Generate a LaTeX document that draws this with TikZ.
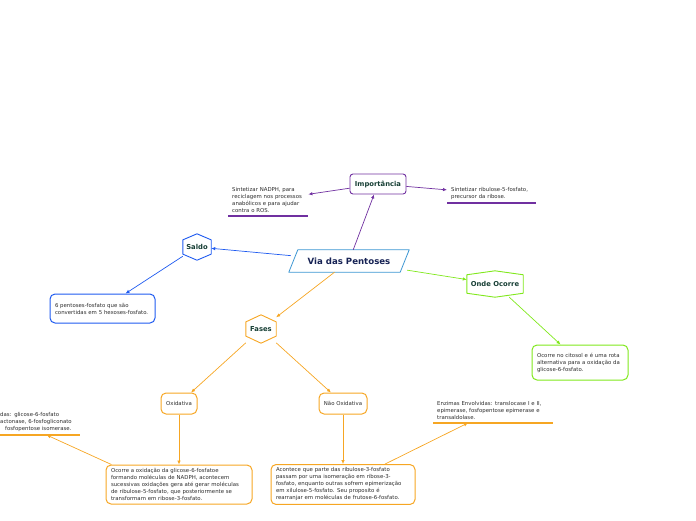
\documentclass[tikz,border=0pt]{standalone}
\usepackage{fontspec}
\setmainfont{DejaVu Sans}
\usetikzlibrary{arrows.meta, positioning, calc, shapes.geometric}

\definecolor{vpurple}{RGB}{112,48,160}
\definecolor{vblue}{RGB}{30,90,240}
\definecolor{vsky}{RGB}{60,150,210}
\definecolor{vgreen}{RGB}{128,232,28}
\definecolor{vorange}{RGB}{246,166,35}
\definecolor{titletext}{RGB}{22,62,52}
\definecolor{maintext}{RGB}{22,34,84}
\definecolor{bodytext}{RGB}{45,45,45}

\begin{document}
\begin{tikzpicture}[
	x=1pt, y=-1pt,
	font=\fontsize{5.4}{7}\selectfont,
	text=bodytext,
	title/.style={
		font=\fontsize{6.8}{8}\selectfont\bfseries,
		text=titletext,
		inner sep=0pt
	},
	note/.style={
		align=left,
		inner xsep=4pt,
		inner ysep=3pt
	},
	box/.style={
		draw=#1,
		line width=1pt,
		rounded corners=5pt,
		align=left,
		inner xsep=5pt
	},
	link/.style={
		draw=#1,
		line width=.7pt,
		-{Latex[length=4pt,width=3.5pt]}
	}
	]
	\useasboundingbox (0,0) rectangle (696,520);

	% centre
	\node[minimum width=116pt, minimum height=22pt, inner sep=0pt,
		font=\fontsize{8.6}{10}\selectfont\bfseries, text=maintext] (via) at (349,261) {Via das Pentoses};
	\draw[vsky, line width=.8pt, line join=round] ($(via.north west)+(7,0)$) -- ($(via.north east)+(2,0)$)
		-- ($(via.south east)+(-7,0)$) -- ($(via.south west)+(-2,0)$) -- cycle;

	% Importancia
	\node[title, draw=vpurple, line width=.9pt, rounded corners=3pt,
		minimum width=56pt, minimum height=20pt] (imp) at (378,184) {Importância};
	\node[note, text width=72pt, anchor=south west] (sintA) at (228,216)
		{Sintetizar NADPH, para\\reciclagem nos processos\\anabólicos e para ajudar\\contra o ROS.};
	\node[note, text width=81pt, anchor=south west] (sintB) at (447,203)
		{Sintetizar ribulose-5-fosfato,\\precursor da ribose.};

	% Saldo, Onde Ocorre, Fases
	\node[title, minimum width=28pt, minimum height=26pt] (saldo) at (197,247) {Saldo};
	\node[title, minimum width=56pt, minimum height=26pt] (onde) at (495,284) {Onde Ocorre};
	\node[title, minimum width=30pt, minimum height=28pt] (fases) at (261,329) {Fases};
	\foreach \n/\c/\f in {saldo/vblue/.23, onde/vgreen/.15, fases/vorange/.25} {
		\draw[\c, line width=.9pt, line join=round] (\n.north)
			-- ($(\n.north east)!\f!(\n.south east)$)
			-- ($(\n.south east)!\f!(\n.north east)$)
			-- (\n.south)
			-- ($(\n.south west)!\f!(\n.north west)$)
			-- ($(\n.north west)!\f!(\n.south west)$) -- cycle;
	}

	\node[box=vblue, text width=95pt, minimum height=29pt] (saldobox) at (102.5,308.5)
		{6 pentoses-fosfato que são\\convertidas em 5 hexoses-fosfato.};
	\node[box=vgreen, text width=86pt, minimum height=35pt] (ondebox) at (580,362.5)
		{Ocorre no citosol e é uma rota\\alternativa para a oxidação da\\glicose-6-fosfato.};

	% Fases
	\node[box=vorange, minimum width=36pt, minimum height=21pt, inner xsep=0pt] (oxi) at (179,403.5) {Oxidativa};
	\node[box=vorange, minimum width=48pt, minimum height=21pt, inner xsep=0pt] (naoxi) at (343,403.5) {Não Oxidativa};
	\node[box=vorange, text width=136pt, minimum height=39pt] (oxibox) at (179,484.5)
		{Ocorre a oxidação da glicose-6-fosfatoe\\formando moléculas de NADPH, acontecem\\sucessivas oxidações gera até gerar moléculas\\de ribulose-5-fosfato, que posteriormente se\\transformam em ribose-3-fosfato.};
	\node[box=vorange, text width=134pt, minimum height=39pt] (naoxibox) at (343,484.5)
		{Acontece que parte das ribulose-3-fosfato\\passam por uma isomeração em ribose-3-\\fosfato, enquanto outras sofrem epimerização\\em xilulose-5-fosfato. Seu proposito é\\rearranjar em moléculas de frutose-6-fosfato.};
	\node[note, text width=76pt, anchor=south west] (enzA) at (-4,435)
		{das: glicose-6-fosfato\\actonase, 6-fosfogliconato\\\hspace{5pt}fosfopentose isomerase.};
	\node[note, text width=112pt, anchor=south west] (enzB) at (433,423)
		{Enzimas Envolvidas: translocase I e II,\\epimerase, fosfopentose epimerase e\\transaldolase.};

	% underlines
	\draw[vpurple, line width=1.2pt] (sintA.south west) -- (sintA.south east);
	\draw[vpurple, line width=1.2pt] (sintB.south west) -- (sintB.south east);
	\draw[vorange, line width=1.2pt] (enzA.south west) -- (enzA.south east);
	\draw[vorange, line width=1.2pt] (enzB.south west) -- (enzB.south east);

	% connectors
	\draw[link=vpurple] (via) -- (imp);
	\draw[link=vpurple] (imp) -- (sintA);
	\draw[link=vpurple] (imp) -- (sintB);
	\draw[link=vblue] (via) -- (saldo);
	\draw[link=vblue] (saldo) -- (saldobox);
	\draw[link=vgreen] (via) -- (onde);
	\draw[link=vgreen] (onde) -- (ondebox);
	\draw[link=vorange] (via) -- (fases);
	\draw[link=vorange] (fases) -- (oxi);
	\draw[link=vorange] (fases) -- (naoxi);
	\draw[link=vorange] (oxi) -- (oxibox);
	\draw[link=vorange] (naoxi) -- (naoxibox);
	\draw[link=vorange] ($(oxibox.north west)!.04!(oxibox.north east)$) -- ($(enzA.south west)!.6!(enzA.south east)$);
	\draw[link=vorange] ($(naoxibox.north west)!.79!(naoxibox.north east)$) -- ($(enzB.south west)!.29!(enzB.south east)$);
\end{tikzpicture}
\end{document}
